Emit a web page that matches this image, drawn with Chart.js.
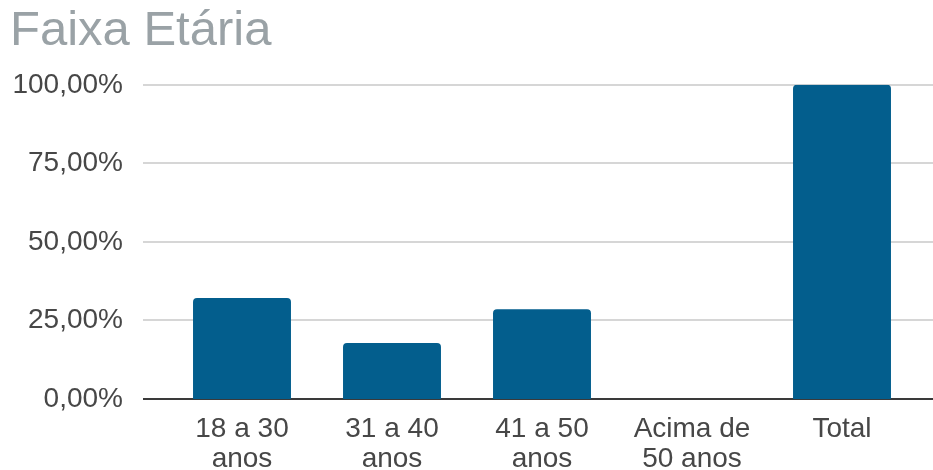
<!DOCTYPE html>
<html lang="pt-BR">
<head>
<meta charset="utf-8">
<title>Faixa Etária</title>
<script src="https://cdn.jsdelivr.net/npm/chart.js@4"></script>
<style>
  html, body { margin: 0; padding: 0; background: #fff; }
  #wrap { width: 933px; height: 470px; position: relative; }
</style>
</head>
<body>
<div id="wrap"><canvas id="chart"></canvas></div>
<script>
// dados
const chartTitle = 'Faixa Etária';
const categories = [
  ['18 a 30', 'anos'],
  ['31 a 40', 'anos'],
  ['41 a 50', 'anos'],
  ['Acima de', '50 anos'],
  'Total',
];
const percentValues = [32.14, 17.86, 28.57, 0, 100];
const yTicks = [0, 25, 50, 75, 100];

const FONT = '"Liberation Sans", Arial, sans-serif';
const GRID_LEFT_EXT = 24; // quanto a grade passa da área do gráfico à esquerda

// linhas de grade desenhadas de ponta a ponta (passam um pouco à esquerda e vão até a borda direita)
const gridLines = {
  id: 'gridLines',
  beforeDatasetsDraw(chart) {
    const { ctx, chartArea, scales } = chart;
    ctx.save();
    for (const v of yTicks) {
      const y = Math.round(scales.y.getPixelForValue(v));
      ctx.strokeStyle = v === 0 ? '#3a3a3a' : '#c9c9c9';
      ctx.lineWidth = v === 0 ? 2 : 1.5;
      ctx.beginPath();
      ctx.moveTo(chartArea.left - GRID_LEFT_EXT, y);
      ctx.lineTo(chart.width, y);
      ctx.stroke();
    }
    ctx.restore();
  }
};

new Chart(document.getElementById('chart'), {
  type: 'bar',
  data: {
    labels: categories,
    datasets: [{
      data: percentValues,
      backgroundColor: '#035e8d',
      borderRadius: 4,
      categoryPercentage: 1,
      barPercentage: 0.653,
    }]
  },
  options: {
    responsive: true,
    maintainAspectRatio: false,
    animation: false,
    layout: { padding: { left: 10, right: 16, top: 0, bottom: 0 } },
    plugins: {
      legend: { display: false },
      tooltip: { enabled: false },
      title: {
        display: true,
        text: chartTitle,
        align: 'start',
        color: '#9aa2a6',
        font: { family: FONT, size: 49, weight: 'normal' },
        padding: { top: 2, bottom: 24 },
      }
    },
    scales: {
      x: {
        grid: { display: false },
        border: { display: false },
        afterFit: (scale) => { scale.height = 71; },
        ticks: {
          color: '#474747',
          font: { family: FONT, size: 28, lineHeight: 1.05 },
          padding: 8,
          maxRotation: 0,
          autoSkip: false,
        }
      },
      y: {
        min: 0,
        max: 100,
        border: { display: false },
        grid: { display: false },
        afterFit: (scale) => { scale.width = 157; },
        afterBuildTicks: (scale) => {
          scale.ticks = yTicks.map((v) => ({ value: v }));
        },
        ticks: {
          color: '#474747',
          font: { family: FONT, size: 28 },
          padding: 36,
          callback: (v) => v.toFixed(2).replace('.', ',') + '%',
        }
      }
    }
  },
  plugins: [gridLines]
});
</script>
</body>
</html>
